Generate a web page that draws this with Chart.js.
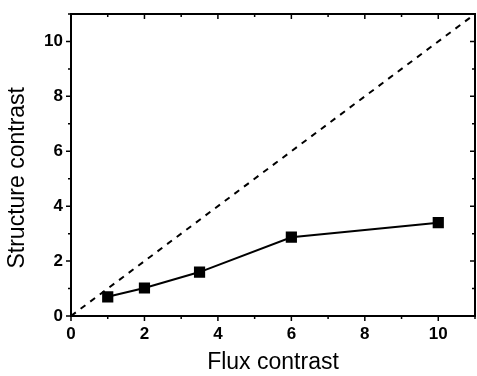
<!DOCTYPE html>
<html>
<head>
<meta charset="utf-8">
<script src="https://cdn.jsdelivr.net/npm/chart.js@4/dist/chart.umd.min.js"></script>
<style>
  body { margin: 0; background: #fff; }
  canvas { display: block; }
</style>
</head>
<body>
<canvas id="contrastChart" width="477" height="376"></canvas>
<script>
// Measured contrast values
const fluxContrast = [1, 2, 3.5, 6, 10];
const structureContrast = [0.7, 1.02, 1.6, 2.87, 3.4];
// y = x reference line end points
const unityLine = [0, 11];

const axisFont = "'Liberation Sans', Arial, sans-serif";

// Frame box plus Origin-style ticks: outward on bottom/left, inward on top/right
const frameTicks = {
  id: "frameTicks",
  afterDatasetsDraw(chart) {
    const { ctx, chartArea: a, scales } = chart;
    ctx.save();
    ctx.strokeStyle = "#000";
    ctx.lineWidth = 1.5;
    for (let v = 0; v <= 11; v++) {
      const len = v % 2 === 0 ? 5 : 3;
      const px = scales.x.getPixelForValue(v);
      const py = scales.y.getPixelForValue(v);
      ctx.beginPath();
      ctx.moveTo(px, a.bottom); ctx.lineTo(px, a.bottom + len);
      ctx.moveTo(px, a.top); ctx.lineTo(px, a.top + len);
      ctx.moveTo(a.left, py); ctx.lineTo(a.left - len, py);
      ctx.moveTo(a.right, py); ctx.lineTo(a.right - len, py);
      ctx.stroke();
    }
    ctx.lineWidth = 2;
    ctx.strokeRect(a.left, a.top, a.right - a.left, a.bottom - a.top);
    ctx.restore();
  }
};

const evenOnly = (v) => (v % 2 === 0 ? v : "");

new Chart(document.getElementById("contrastChart"), {
  type: "scatter",
  data: {
    datasets: [
      {
        label: "y = x",
        data: unityLine.map((v) => ({ x: v, y: v })),
        showLine: true,
        borderColor: "#000",
        borderWidth: 2,
        borderDash: [6, 6],
        pointRadius: 0,
      },
      {
        label: "Structure contrast",
        data: fluxContrast.map((f, i) => ({ x: f, y: structureContrast[i] })),
        showLine: true,
        borderColor: "#000",
        borderWidth: 2,
        pointStyle: "rect",
        pointRadius: 6.5,
        pointBackgroundColor: "#000",
        pointBorderColor: "#000",
      },
    ],
  },
  options: {
    responsive: false,
    animation: false,
    layout: { autoPadding: false, padding: { top: 14, right: 2, left: 0, bottom: 0 } },
    plugins: { legend: { display: false }, tooltip: { enabled: false } },
    scales: {
      x: {
        type: "linear",
        min: 0,
        max: 11,
        grid: { display: false, drawTicks: false },
        border: { display: false },
        ticks: {
          stepSize: 1,
          autoSkip: false,
          maxRotation: 0,
          padding: 8,
          color: "#000",
          font: { family: axisFont, size: 17, weight: "bold" },
          callback: evenOnly,
        },
        title: {
          display: true,
          text: "Flux contrast",
          color: "#000",
          font: { family: axisFont, size: 23 },
          padding: { top: 0, bottom: 0 },
        },
        afterFit: (scale) => {
          scale.height = 60;
          scale.paddingLeft = 0;
          scale.paddingRight = 0;
        },
      },
      y: {
        type: "linear",
        min: 0,
        max: 11,
        grid: { display: false, drawTicks: false },
        border: { display: false },
        ticks: {
          stepSize: 1,
          autoSkip: false,
          padding: 8,
          color: "#000",
          font: { family: axisFont, size: 17, weight: "bold" },
          callback: evenOnly,
        },
        title: {
          display: true,
          text: "Structure contrast    ",
          color: "#000",
          font: { family: axisFont, size: 23 },
          padding: { top: 4, bottom: 4 },
        },
        afterFit: (scale) => {
          scale.width = 71;
          scale.paddingTop = 0;
          scale.paddingBottom = 0;
        },
      },
    },
  },
  plugins: [frameTicks],
});
</script>
</body>
</html>
